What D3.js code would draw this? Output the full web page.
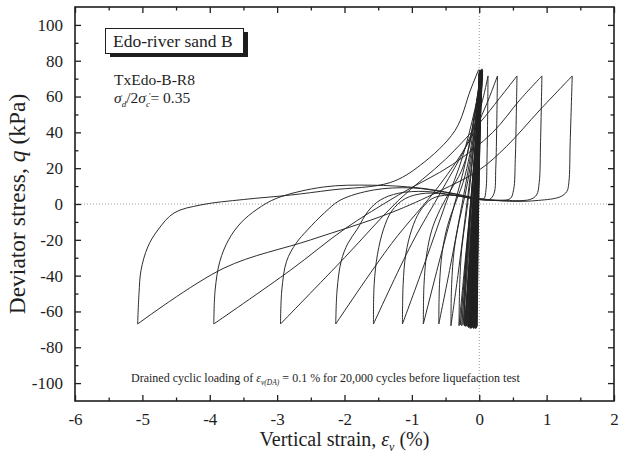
<!DOCTYPE html>
<html>
<head>
<meta charset="utf-8">
<script src="https://cdn.jsdelivr.net/npm/d3@7"></script>
<style>
  body { margin: 0; background: #fff; }
  svg { display: block; }
  text { font-family: "Liberation Serif", "Times New Roman", serif; fill: #1e1e1e; }
</style>
</head>
<body>
<svg id="chart" width="633" height="455"></svg>
<script>
// ---- axis ticks ----
const strainTicks = [-6, -5, -4, -3, -2, -1, 0, 1, 2];
const strainMinorTicks = [-5.5, -4.5, -3.5, -2.5, -1.5, -0.5, 0.5, 1.5];
const stressTicks = [-100, -80, -60, -40, -20, 0, 20, 40, 60, 80, 100];
const stressMinorTicks = [-90, -70, -50, -30, -10, 10, 30, 50, 70, 90];

// ---- early (pre-liquefaction) cycles: strain (%) and stress (kPa) at q min / q max ----
const earlyTroughs = [-0.03, -0.04, -0.035, -0.05, -0.045, -0.06, -0.055, -0.07, -0.065, -0.08,
                      -0.075, -0.09, -0.085, -0.1, -0.095, -0.11, -0.105, -0.12, -0.115, -0.13,
                      -0.125, -0.14, -0.135, -0.15, -0.145, -0.16, -0.155, -0.17, -0.18, -0.19,
                      -0.2, -0.21, -0.24, -0.26, -0.28];
const earlyPeaks   = [0.01, 0.0, 0.02, 0.01, 0.03, 0.0, 0.02, 0.04, 0.01, 0.03,
                      0.0, 0.02, 0.04, 0.01, 0.03, 0.02, 0.0, 0.04, 0.01, 0.03,
                      0.02, 0.05, 0.01, 0.03, 0.02, 0.04, 0.01, 0.03, 0.02, 0.04,
                      0.03, 0.05, 0.02, 0.04, 0.03];
const earlyTroughStress = [-68, -69, -68.5, -69.5, -69, -68, -69.5, -69, -68.5, -69.5,
                           -69, -68, -69.5, -69, -68.5, -69, -68, -69.5, -69, -68.5,
                           -69, -68, -69.5, -69, -68.5, -69, -68, -68.5, -68, -68,
                           -68.5, -68, -67.5, -68, -67.5];
const earlyPeakStress   = [73, 74.5, 73.5, 75, 74, 73, 74.5, 75.5, 73.5, 74,
                           73, 74.5, 75, 73.5, 74, 74.5, 73, 75, 73.5, 74,
                           73, 74.5, 73.5, 74, 73, 74.5, 73.5, 74, 73, 73.5,
                           73, 72.5, 73, 72.5, 72];

// ---- loading branches (q increasing): [strain %, q kPa] ----
const reloadBranches = [
  [[-0.22,-68],[-0.21,-45],[-0.18,-24],[-0.13,-5],[-0.09,15],[-0.05,38],[-0.02,57],[0.02,73]],
  [[-0.30,-68],[-0.29,-45],[-0.26,-25],[-0.2,-8],[-0.14,10],[-0.08,32],[-0.04,52],[0.02,73]],
  [[-0.42,-68],[-0.41,-45],[-0.37,-25],[-0.3,-10],[-0.21,5],[-0.13,22],[-0.07,42],[-0.03,58],[0.03,73]],
  [[-0.60,-67],[-0.59,-45],[-0.55,-27],[-0.47,-12],[-0.36,0],[-0.24,12],[-0.14,28],[-0.07,48],[0.02,73]],
  [[-0.83,-67],[-0.82,-45],[-0.78,-28],[-0.7,-14],[-0.58,-3],[-0.42,8],[-0.27,18],[-0.15,32],[-0.07,50],[0.04,72]],
  [[-1.14,-67],[-1.13,-45],[-1.09,-28],[-1.0,-14],[-0.88,-4],[-0.7,3],[-0.45,5],[-0.2,4],[0.0,2.5],[0.07,3],[0.1,8],[0.115,25],[0.125,50],[0.13,71.5]],
  [[-1.57,-67],[-1.56,-45],[-1.51,-28],[-1.42,-14],[-1.3,-4],[-1.1,3],[-0.8,6],[-0.4,5],[0.0,2.5],[0.15,2.5],[0.22,6],[0.245,20],[0.26,45],[0.27,71.5]],
  [[-2.13,-67],[-2.11,-48],[-2.05,-32],[-1.95,-22],[-1.81,-14],[-1.65,-4],[-1.47,2.2],[-1.2,6],[-0.8,7],[-0.4,5],[0.0,2.5],[0.3,2],[0.46,3],[0.51,8],[0.535,25],[0.55,50],[0.56,71.5]],
  [[-2.95,-67],[-2.93,-48],[-2.86,-32],[-2.72,-22],[-2.55,-14.5],[-2.3,-5],[-2.06,2.2],[-1.57,7.8],[-1.0,9],[-0.5,6.5],[0.0,3],[0.4,2],[0.75,2.5],[0.85,5],[0.89,12],[0.91,35],[0.93,71.5]],
  [[-3.94,-67],[-3.92,-48],[-3.85,-32],[-3.72,-20],[-3.54,-10.6],[-3.3,-3],[-3.0,3.3],[-2.31,9.5],[-1.6,10.5],[-0.9,9],[-0.4,6],[0.0,3],[0.45,1.5],[0.88,2],[1.2,4],[1.3,7],[1.33,12],[1.35,35],[1.38,71.5]],
  [[-5.07,-67],[-5.05,-50],[-5.02,-37],[-4.92,-24],[-4.77,-14.5],[-4.53,-5],[-4.13,-0.5],[-3.5,2.5],[-2.8,5],[-2.2,7.8],[-1.32,12],[-0.87,21.8],[-0.36,41],[-0.13,63.7],[-0.01,75]]
];

// ---- unloading branches (q decreasing): [strain %, q kPa] ----
const unloadBranches = [
  [[0.03,73],[-0.02,45],[-0.07,15],[-0.12,-15],[-0.16,-42],[-0.22,-68]],
  [[0.02,73],[-0.02,45],[-0.07,15],[-0.12,-15],[-0.17,-42],[-0.22,-68]],
  [[0.02,73],[-0.03,48],[-0.09,18],[-0.16,-12],[-0.23,-40],[-0.30,-68]],
  [[0.02,73],[-0.04,48],[-0.12,20],[-0.21,-8],[-0.31,-38],[-0.42,-68]],
  [[0.03,73],[-0.04,50],[-0.15,22],[-0.28,-5],[-0.43,-35],[-0.60,-67]],
  [[0.02,73],[-0.07,50],[-0.2,24],[-0.38,-2],[-0.6,-33],[-0.83,-67]],
  [[0.04,72],[-0.07,52],[-0.25,26],[-0.5,0],[-0.8,-32],[-1.14,-67]],
  [[0.13,71.5],[0.02,54],[-0.2,32],[-0.55,8],[-1.0,-22],[-1.57,-67]],
  [[0.27,71.5],[0.1,55],[-0.15,35],[-0.6,10],[-1.3,-22],[-2.13,-67]],
  [[0.56,71.5],[0.3,59],[0.0,45],[-0.5,25],[-1.2,2],[-2.0,-30],[-2.95,-67]],
  [[0.93,71.5],[0.6,58],[0.2,40],[-0.4,22],[-1.2,5],[-2.0,-14],[-2.8,-36.9],[-3.94,-67]],
  [[1.38,71.5],[0.9,52.5],[0.4,32],[0.0,19],[-0.6,7],[-1.32,-5],[-2.5,-20],[-3.79,-35.8],[-5.07,-67]]
];

// ---- layout ----
const svg = d3.select("#chart");
const W = 633, H = 455;
const m = { left: 75, right: 19, top: 7, bottom: 54 };
const x = d3.scaleLinear().domain([-6, 2]).range([m.left, W - m.right]);
const y = d3.scaleLinear().domain([-110, 110]).range([H - m.bottom, m.top]);
const ink = "#1e1e1e";

// zero reference lines
svg.append("line").attr("x1", x(-6)).attr("x2", x(2)).attr("y1", y(0)).attr("y2", y(0))
  .attr("stroke", "#9a9a9a").attr("stroke-width", 1).attr("stroke-dasharray", "1,2");
svg.append("line").attr("x1", x(0)).attr("x2", x(0)).attr("y1", y(110)).attr("y2", y(-110))
  .attr("stroke", "#9a9a9a").attr("stroke-width", 1).attr("stroke-dasharray", "1,2");

// stress–strain curves
const line = d3.line().x(d => x(d[0])).y(d => y(d[1])).curve(d3.curveCatmullRom.alpha(0.5));
const plot = svg.append("g").attr("fill", "none").attr("stroke", "#222").attr("stroke-width", 0.95);

const early = [];
earlyTroughs.forEach((t, i) => {
  early.push([t, earlyTroughStress[i]]);
  early.push([earlyPeaks[i], earlyPeakStress[i]]);
});
plot.append("path").attr("stroke-width", 0.8)
  .attr("d", d3.line().x(d => x(d[0])).y(d => y(d[1]))(early));
reloadBranches.forEach(b => plot.append("path").attr("d", line(b)));
unloadBranches.forEach(b => plot.append("path").attr("d", line(b)));

// axes (inward ticks on all four sides)
function styleAxis(g) {
  g.select(".domain").remove();
  g.selectAll("line").attr("stroke", ink).attr("stroke-width", 1.3);
  g.selectAll("text").attr("font-size", "17px").attr("fill", ink)
    .style("font-family", "'Liberation Serif', serif");
}
const fmt = d => String(d);
svg.append("g").attr("transform", `translate(0,${y(-110)})`)
  .call(d3.axisBottom(x).tickValues(strainTicks).tickSize(-6).tickPadding(12).tickFormat(fmt))
  .call(styleAxis);
svg.append("g").attr("transform", `translate(0,${y(-110)})`)
  .call(d3.axisBottom(x).tickValues(strainMinorTicks).tickSize(-3.5).tickFormat(""))
  .call(styleAxis);
svg.append("g").attr("transform", `translate(0,${y(110)})`)
  .call(d3.axisTop(x).tickValues(strainTicks).tickSize(-6).tickFormat(""))
  .call(styleAxis);
svg.append("g").attr("transform", `translate(0,${y(110)})`)
  .call(d3.axisTop(x).tickValues(strainMinorTicks).tickSize(-3.5).tickFormat(""))
  .call(styleAxis);
svg.append("g").attr("transform", `translate(${x(-6)},0)`)
  .call(d3.axisLeft(y).tickValues(stressTicks).tickSize(-6).tickPadding(12).tickFormat(fmt))
  .call(styleAxis);
svg.append("g").attr("transform", `translate(${x(-6)},0)`)
  .call(d3.axisLeft(y).tickValues(stressMinorTicks).tickSize(-3.5).tickFormat(""))
  .call(styleAxis);
svg.append("g").attr("transform", `translate(${x(2)},0)`)
  .call(d3.axisRight(y).tickValues(stressTicks).tickSize(-6).tickFormat(""))
  .call(styleAxis);
svg.append("g").attr("transform", `translate(${x(2)},0)`)
  .call(d3.axisRight(y).tickValues(stressMinorTicks).tickSize(-3.5).tickFormat(""))
  .call(styleAxis);

// frame
svg.append("rect").attr("x", x(-6)).attr("y", y(110))
  .attr("width", x(2) - x(-6)).attr("height", y(-110) - y(110))
  .attr("fill", "none").attr("stroke", ink).attr("stroke-width", 1.6);

// axis titles
const yt = svg.append("text").attr("transform", `translate(25,${(y(110) + y(-110)) / 2}) rotate(-90)`)
  .attr("text-anchor", "middle").attr("font-size", "23.5px");
yt.append("tspan").text("Deviator stress, ");
yt.append("tspan").attr("font-style", "italic").text("q");
yt.append("tspan").text(" (kPa)");

const xt = svg.append("text").attr("x", (x(-6) + x(2)) / 2).attr("y", 446)
  .attr("text-anchor", "middle").attr("font-size", "20px");
xt.append("tspan").text("Vertical strain, ");
xt.append("tspan").attr("font-style", "italic").text("ε");
xt.append("tspan").attr("font-size", "12px").attr("dy", 5).attr("font-style", "italic").text("v");
xt.append("tspan").attr("dy", -5).text(" (%)");

// material label box with drop shadow
svg.append("rect").attr("x", 110).attr("y", 32).attr("width", 138).attr("height", 25).attr("fill", ink);
svg.append("rect").attr("x", 105.5).attr("y", 28.5).attr("width", 138).attr("height", 25)
  .attr("fill", "#fff").attr("stroke", ink).attr("stroke-width", 1);
svg.append("text").attr("x", 113).attr("y", 47).attr("font-size", "17.5px").text("Edo-river sand B");

svg.append("text").attr("x", 114).attr("y", 85).attr("font-size", "15.5px").text("TxEdo-B-R8");
const sr = svg.append("text").attr("x", 114).attr("y", 103).attr("font-size", "15.5px");
sr.append("tspan").attr("font-style", "italic").text("σ");
sr.append("tspan").attr("font-size", "9px").attr("dy", 4).attr("font-style", "italic").text("d");
sr.append("tspan").attr("dy", -4).text("/2");
sr.append("tspan").attr("font-style", "italic").text("σ");
sr.append("tspan").attr("font-size", "9px").attr("dy", 4).attr("font-style", "italic").text("c");
sr.append("tspan").attr("font-size", "9px").attr("dy", -8).attr("dx", -1).text("'");
sr.append("tspan").attr("dy", 4).text("= 0.35");

// test-history note
const note = svg.append("text").attr("x", 131).attr("y", 382).attr("font-size", "12px");
note.append("tspan").text("Drained cyclic loading of ");
note.append("tspan").attr("font-style", "italic").text("ε");
note.append("tspan").attr("font-size", "7.5px").attr("dy", 3).attr("font-style", "italic").text("v(DA)");
note.append("tspan").attr("dy", -3).text(" = 0.1 % for 20,000 cycles before liquefaction test");
</script>
</body>
</html>
